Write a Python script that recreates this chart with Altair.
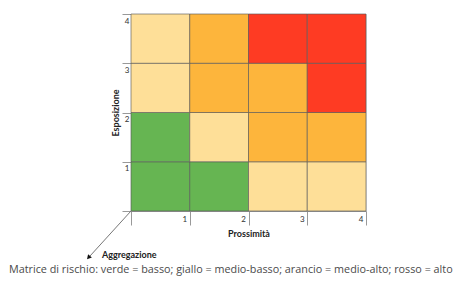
import altair as alt
import pandas as pd

# Matrix: rows = Esposizione (1..4), columns = Prossimità (1..4)
prossimita = [1, 2, 3, 4, 1, 2, 3, 4, 1, 2, 3, 4, 1, 2, 3, 4]
esposizione = [1, 1, 1, 1, 2, 2, 2, 2, 3, 3, 3, 3, 4, 4, 4, 4]
livello = [
    "basso", "basso", "medio-basso", "medio-basso",
    "basso", "medio-basso", "medio-alto", "medio-alto",
    "medio-basso", "medio-alto", "medio-alto", "alto",
    "medio-basso", "medio-alto", "alto", "alto",
]
livelli = ["basso", "medio-basso", "medio-alto", "alto"]
colori = ["#66B552", "#FEDF98", "#FDB53C", "#FE3B23"]
tick_values = [0, 1, 2, 3, 4]
caption = "Matrice di rischio: verde = basso; giallo = medio-basso; arancio = medio-alto; rosso = alto"

df = pd.DataFrame({
    "p0": [p - 1 for p in prossimita],
    "p1": prossimita,
    "e0": [e - 1 for e in esposizione],
    "e1": esposizione,
    "livello": livello,
})

W, H = 235, 197

cells = alt.Chart(df).mark_rect(stroke="#5a5a5a", strokeWidth=0.8, strokeOpacity=0.8).encode(
    x=alt.X("p0:Q", scale=alt.Scale(domain=[0, 4], nice=False),
            axis=alt.Axis(values=tick_values, title="Prossimità", grid=False,
                          tickSize=14, tickColor="#999999", domainColor="#999999",
                          labelExpr="datum.value == 0 ? '' : datum.label",
                          labelAlign="right", labelBaseline="middle",
                          labelPadding=-6, labelOffset=-3,
                          labelFont="Lato", labelFontSize=8, labelColor="#333333",
                          titleFont="Lato", titleFontSize=9, titleFontWeight="bold",
                          titleColor="#222222", titleY=22, titleBaseline="middle")),
    x2="p1:Q",
    y=alt.Y("e0:Q", scale=alt.Scale(domain=[0, 4], nice=False),
            axis=alt.Axis(values=tick_values, title="Esposizione", grid=False,
                          tickSize=9, tickColor="#999999", domainColor="#999999",
                          labelExpr="datum.value == 0 ? '' : datum.label",
                          labelAlign="right", labelBaseline="top",
                          labelPadding=-7, labelOffset=3,
                          labelFont="Lato", labelFontSize=8, labelColor="#333333",
                          titleFont="Lato", titleFontSize=9, titleFontWeight="bold",
                          titleColor="#222222", titleX=-16, titleY=H / 2,
                          titleBaseline="middle", titleAlign="center")),
    y2="e1:Q",
    color=alt.Color("livello:N", scale=alt.Scale(domain=livelli, range=colori), legend=None),
)

anno = pd.DataFrame({"k": [0]})

arrow_line = alt.Chart(anno).mark_rule(color="#777777", strokeWidth=1).encode(
    x=alt.value(0), y=alt.value(H), x2=alt.value(-41), y2=alt.value(H + 45)
)
arrow_head = alt.Chart(anno).mark_point(shape="triangle", filled=True, color="#111111",
                                        size=26, angle=222, opacity=1).encode(
    x=alt.value(-42), y=alt.value(H + 46)
)
aggr = alt.Chart(anno).mark_text(text="Aggregazione", font="Lato", fontSize=9,
                                 fontWeight="bold", align="left", baseline="middle",
                                 color="#222222").encode(
    x=alt.value(-29), y=alt.value(H + 44)
)
cap = alt.Chart(anno).mark_text(text=caption, font="Open Sans", fontSize=10.8,
                                align="left", baseline="alphabetic", color="#4a4a4a").encode(
    x=alt.value(-122), y=alt.value(H + 62)
)

chart = alt.layer(cells, arrow_line, arrow_head, aggr, cap).properties(
    width=W, height=H,
    autosize=alt.AutoSizeParams(type="none"),
    padding={"left": 123, "top": 6, "right": 93, "bottom": 66},
).configure_view(stroke=None).configure(background="white")

chart.save("out.html", embed_options={"renderer": "svg", "actions": False})
